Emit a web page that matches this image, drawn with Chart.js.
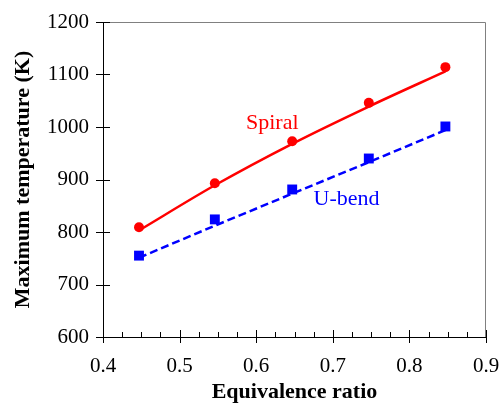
<!DOCTYPE html>
<html>
<head>
<meta charset="utf-8">
<script src="https://cdn.jsdelivr.net/npm/chart.js@4/dist/chart.umd.min.js"></script>
<style>
  html, body { margin: 0; padding: 0; background: #fff; }
  #wrap { width: 501px; height: 404px; }
</style>
</head>
<body>
<div id="wrap"><canvas id="tempChart" width="501" height="404"></canvas></div>
<script>
// data
const phi = [0.447, 0.546, 0.647, 0.747, 0.847];
const spiralTemp = [809, 893, 973, 1046, 1114];
const spiralFit = [803, 889, 968, 1039, 1106];
const ubendTemp = [755, 824, 881, 940, 1001];
const ubendFit = [751, 812, 873, 933, 994];

const xTicks = [0.4, 0.5, 0.6, 0.7, 0.8, 0.9];
const yTicks = [600, 700, 800, 900, 1000, 1100, 1200];

// in-plot series labels
const seriesNames = ['Spiral', 'U-bend'];
const labelPhi = [0.621, 0.718];
const labelTemp = [997, 851];
const seriesColors = ['#ff0000', '#0000ff'];

const serif = "'Liberation Serif', 'Times New Roman', serif";

function pts(xs, ys) {
    return xs.map((x, i) => ({ x: x, y: ys[i] }));
}

// draws the crossing tick marks, minor ticks, grey box and series labels
const decorations = {
    id: 'decorations',
    afterDraw(chart) {
        const ctx = chart.ctx;
        const a = chart.chartArea;
        const xs = chart.scales.x, ys = chart.scales.y;
        ctx.save();
        // grey top / right frame
        ctx.strokeStyle = '#808080';
        ctx.lineWidth = 1;
        ctx.beginPath();
        ctx.moveTo(a.left, a.top + 0.5);
        ctx.lineTo(a.right - 0.5, a.top + 0.5);
        ctx.lineTo(a.right - 0.5, a.bottom);
        ctx.stroke();

        ctx.strokeStyle = '#000';
        ctx.lineWidth = 1;
        ctx.beginPath();
        yTicks.forEach(v => {
            const y = Math.round(ys.getPixelForValue(v)) + 0.5;
            ctx.moveTo(a.left - 7, y);
            ctx.lineTo(a.left + 7, y);
        });
        xTicks.forEach(v => {
            const x = Math.round(xs.getPixelForValue(v)) + 0.5;
            ctx.moveTo(x, a.bottom - 7);
            ctx.lineTo(x, a.bottom + 6);
        });
        for (let v = 0.425; v < 0.9; v += 0.025) {
            if (Math.abs(v * 10 - Math.round(v * 10)) < 1e-6) continue;
            const x = Math.round(xs.getPixelForValue(v)) + 0.5;
            ctx.moveTo(x, a.bottom - 5);
            ctx.lineTo(x, a.bottom);
        }
        ctx.stroke();

        ctx.font = '22px ' + serif;
        ctx.textAlign = 'center';
        ctx.textBaseline = 'alphabetic';
        seriesNames.forEach((name, i) => {
            ctx.fillStyle = seriesColors[i];
            ctx.fillText(name, xs.getPixelForValue(labelPhi[i]), ys.getPixelForValue(labelTemp[i]));
        });
        ctx.restore();
    }
};

function draw() {
    const ctx = document.getElementById('tempChart').getContext('2d');
    new Chart(ctx, {
        type: 'scatter',
        data: {
            datasets: [
                {
                    label: 'Spiral fit',
                    data: pts(phi, spiralFit),
                    showLine: true,
                    borderColor: seriesColors[0],
                    borderWidth: 2.5,
                    pointRadius: 0,
                    cubicInterpolationMode: 'monotone'
                },
                {
                    label: 'U-bend fit',
                    data: pts(phi, ubendFit),
                    showLine: true,
                    borderColor: seriesColors[1],
                    borderWidth: 2.5,
                    borderDash: [8, 4],
                    pointRadius: 0
                },
                {
                    label: 'Spiral',
                    data: pts(phi, spiralTemp),
                    pointStyle: 'circle',
                    pointRadius: 5,
                    backgroundColor: seriesColors[0],
                    borderColor: seriesColors[0],
                    borderWidth: 0
                },
                {
                    label: 'U-bend',
                    data: pts(phi, ubendTemp),
                    pointStyle: 'rect',
                    pointRadius: 7,
                    backgroundColor: seriesColors[1],
                    borderColor: seriesColors[1],
                    borderWidth: 0
                }
            ]
        },
        options: {
            responsive: false,
            animation: false,
            layout: { padding: { top: 22, right: 15, left: 0, bottom: 0 } },
            plugins: {
                legend: { display: false },
                tooltip: { enabled: false }
            },
            scales: {
                x: {
                    type: 'linear',
                    min: 0.4,
                    max: 0.9,
                    afterBuildTicks: s => { s.ticks = xTicks.map(v => ({ value: v })); },
                    afterFit: s => { s.height = 67; s.paddingLeft = 0; s.paddingRight = 0; },
                    grid: { display: false, drawTicks: false },
                    border: { display: true, color: '#000', width: 1 },
                    ticks: {
                        color: '#000',
                        padding: 17,
                        maxRotation: 0,
                        font: { family: serif, size: 21 },
                        callback: v => v.toFixed(1)
                    },
                    title: {
                        display: true,
                        text: 'Equivalence ratio',
                        color: '#000',
                        padding: { top: 0, bottom: 0 },
                        font: { family: serif, size: 22, weight: 'bold', lineHeight: 1.1 }
                    }
                },
                y: {
                    min: 600,
                    max: 1200,
                    afterBuildTicks: s => { s.ticks = yTicks.map(v => ({ value: v })); },
                    afterFit: s => { s.width = 103; s.paddingTop = 0; s.paddingBottom = 0; },
                    grid: { display: false, drawTicks: false },
                    border: { display: true, color: '#000', width: 1 },
                    ticks: {
                        color: '#000',
                        padding: 14,
                        font: { family: serif, size: 21 },
                        callback: v => String(v)
                    },
                    title: {
                        display: true,
                        text: 'Maximum temperature (K)',
                        color: '#000',
                        padding: { top: 11, bottom: 0 },
                        font: { family: serif, size: 22, weight: 'bold', lineHeight: 1.1 }
                    }
                }
            }
        },
        plugins: [decorations]
    });
}

Promise.all([
    document.fonts.load('21px "Liberation Serif"'),
    document.fonts.load('bold 22px "Liberation Serif"')
]).then(draw, draw);
</script>
</body>
</html>
